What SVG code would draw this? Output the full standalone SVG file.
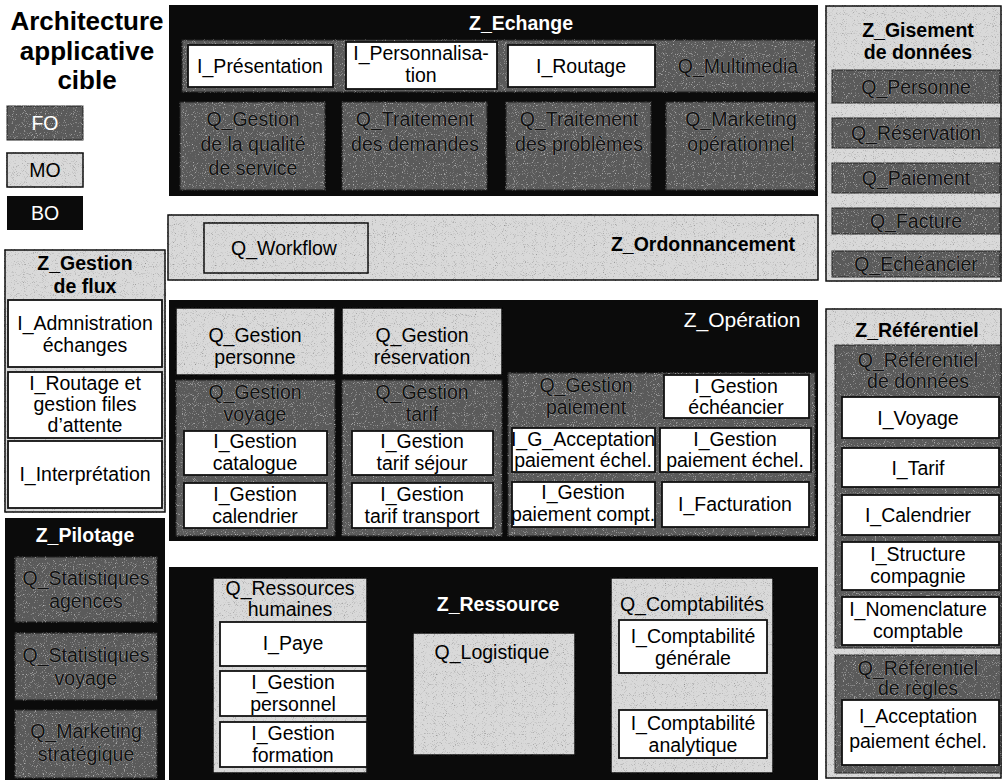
<svg xmlns="http://www.w3.org/2000/svg" width="1003" height="780" viewBox="0 0 1003 780">
  <defs>
    <!-- speckled print texture for the shaded zones -->
    <filter id="grainL" x="-5%" y="-5%" width="110%" height="110%">
      <feTurbulence type="fractalNoise" baseFrequency="1.1" numOctaves="1" seed="7" result="n"/>
      <feColorMatrix in="n" type="matrix" values="0 0 0 0 0  0 0 0 0 0  0 0 0 0 0  2.2 0 0 0 -1.25" result="sp"/>
      <feComposite in="sp" in2="SourceGraphic" operator="in" result="sp2"/>
      <feMerge><feMergeNode in="SourceGraphic"/><feMergeNode in="sp2"/></feMerge>
    </filter>
    <filter id="grainD" x="-5%" y="-5%" width="110%" height="110%">
      <feTurbulence type="fractalNoise" baseFrequency="1.1" numOctaves="1" seed="3" result="n"/>
      <feColorMatrix in="n" type="matrix" values="0 0 0 0 0.85  0 0 0 0 0.85  0 0 0 0 0.85  2.2 0 0 0 -1.3" result="sp"/>
      <feComposite in="sp" in2="SourceGraphic" operator="in" result="sp2"/>
      <feMerge><feMergeNode in="SourceGraphic"/><feMergeNode in="sp2"/></feMerge>
    </filter>
    <style>
      text { font-family: "Liberation Sans", Arial, sans-serif; text-anchor: middle; }
      .bo { fill: #0b0b0b; }
      .mo { fill: #d9d9d9; stroke: #111; stroke-width: 1.5; filter: url(#grainL); }
      .fo { fill: #5a5a5a; stroke: #222; stroke-width: 1; filter: url(#grainD); }
      .box { fill: #ffffff; stroke: #111; stroke-width: 1.8; }
      .t { font-size: 19.5px; fill: #000; }
      .tw { font-size: 19.5px; fill: #fff; }
      .tf { font-size: 19.5px; fill: #111; stroke: #a4a4a4; stroke-width: 0.6; paint-order: stroke; }
      .h { font-size: 19.5px; font-weight: bold; fill: #000; }
      .hw { font-size: 19.5px; font-weight: bold; fill: #fff; }
      .zw { font-size: 21px; fill: #fff; }
      .title { font-size: 26px; font-weight: bold; fill: #000; }
    </style>
  </defs>
  <rect width="1003" height="780" fill="#ffffff"/>

  <!-- Title and legend -->
  <g id="title">
    <text class="title" x="87" y="30">Architecture</text>
    <text class="title" x="87" y="60">applicative</text>
    <text class="title" x="87" y="89">cible</text>
  </g>
  <g id="legend">
    <rect x="7" y="106" width="76" height="34" class="fo"/>
    <text class="tw" x="45" y="130">FO</text>
    <rect x="7" y="153" width="76" height="34" class="mo"/>
    <text class="t" x="45" y="177">MO</text>
    <rect x="7" y="196" width="76" height="34" class="bo"/>
    <text class="tw" x="45" y="220">BO</text>
  </g>

  <!-- Z_Echange -->
  <g id="z-echange">
    <rect x="169" y="5" width="649" height="191" class="bo"/>
    <text class="hw" x="521" y="30">Z_Echange</text>
    <rect x="182" y="40" width="633" height="52" class="fo"/>
    <rect x="188" y="45" width="145" height="42" class="box"/>
    <text class="t" x="260" y="73">I_Présentation</text>
    <rect x="346" y="42" width="151" height="47" class="box"/>
    <text class="t" x="421" y="60">I_Personnalisa-</text>
    <text class="t" x="421" y="82">tion</text>
    <rect x="508" y="45" width="147" height="42" class="box"/>
    <text class="t" x="581" y="73">I_Routage</text>
    <text class="tf" x="738" y="73">Q_Multimedia</text>
    <rect x="180" y="102" width="145" height="88" class="fo"/>
    <text class="tf" x="253" y="126">Q_Gestion</text>
    <text class="tf" x="253" y="151">de la qualité</text>
    <text class="tf" x="253" y="175">de service</text>
    <rect x="342" y="102" width="145" height="88" class="fo"/>
    <text class="tf" x="415" y="126">Q_Traitement</text>
    <text class="tf" x="415" y="151">des demandes</text>
    <rect x="506" y="102" width="145" height="88" class="fo"/>
    <text class="tf" x="579" y="126">Q_Traitement</text>
    <text class="tf" x="579" y="151">des problèmes</text>
    <rect x="666" y="102" width="149" height="88" class="fo"/>
    <text class="tf" x="741" y="126">Q_Marketing</text>
    <text class="tf" x="741" y="151">opérationnel</text>
  </g>

  <!-- Z_Gisement de données -->
  <g id="z-gisement">
    <rect x="826" y="6" width="175" height="275" class="mo"/>
    <text class="h" x="918" y="37">Z_Gisement</text>
    <text class="h" x="918" y="59">de données</text>
    <rect x="832" y="70" width="168" height="33" class="fo"/>
    <text class="tf" x="916" y="94">Q_Personne</text>
    <rect x="832" y="118" width="168" height="30" class="fo"/>
    <text class="tf" x="916" y="140">Q_Réservation</text>
    <rect x="832" y="163" width="168" height="30" class="fo"/>
    <text class="tf" x="916" y="185">Q_Paiement</text>
    <rect x="832" y="208" width="168" height="26" class="fo"/>
    <text class="tf" x="916" y="228">Q_Facture</text>
    <rect x="832" y="251" width="168" height="26" class="fo"/>
    <text class="tf" x="916" y="271">Q_Echéancier</text>
  </g>

  <!-- Z_Ordonnancement -->
  <g id="z-ordonnancement">
    <rect x="168" y="215" width="650" height="65" class="mo"/>
    <rect x="204" y="223" width="164" height="50" class="mo"/>
    <text class="t" x="284" y="255">Q_Workflow</text>
    <text class="h" x="703" y="251">Z_Ordonnancement</text>
  </g>

  <!-- Z_Gestion de flux -->
  <g id="z-gestion-flux">
    <rect x="5" y="250" width="160" height="262" class="mo"/>
    <text class="h" x="85" y="270">Z_Gestion</text>
    <text class="h" x="85" y="293">de flux</text>
    <rect x="8" y="300" width="154" height="67" class="box"/>
    <text class="t" x="85" y="330">I_Admnistration</text>
    <text class="t" x="85" y="352">échanges</text>
    <rect x="8" y="372" width="154" height="66" class="box"/>
    <text class="t" x="85" y="390">I_Routage et</text>
    <text class="t" x="85" y="411">gestion files</text>
    <text class="t" x="85" y="432">d’attente</text>
    <rect x="8" y="441" width="154" height="67" class="box"/>
    <text class="t" x="85" y="481">I_Interprétation</text>
  </g>

  <!-- Z_Pilotage -->
  <g id="z-pilotage">
    <rect x="5" y="518" width="160" height="262" class="bo"/>
    <text class="hw" x="85" y="542">Z_Pilotage</text>
    <rect x="15" y="557" width="142" height="65" class="fo"/>
    <text class="tf" x="86" y="585">Q_Statistiques</text>
    <text class="tf" x="86" y="608">agences</text>
    <rect x="15" y="633" width="142" height="67" class="fo"/>
    <text class="tf" x="86" y="662">Q_Statistiques</text>
    <text class="tf" x="86" y="685">voyage</text>
    <rect x="15" y="710" width="142" height="68" class="fo"/>
    <text class="tf" x="86" y="738">Q_Marketing</text>
    <text class="tf" x="86" y="761">stratégique</text>
  </g>

  <!-- Z_Opération -->
  <g id="z-operation">
    <rect x="169" y="300" width="649" height="241" class="bo"/>
    <text class="zw" x="742" y="327">Z_Opération</text>
    <rect x="176" y="308" width="159" height="67" class="mo"/>
    <text class="t" x="255" y="342">Q_Gestion</text>
    <text class="t" x="255" y="364">personne</text>
    <rect x="342" y="308" width="160" height="67" class="mo"/>
    <text class="t" x="422" y="342">Q_Gestion</text>
    <text class="t" x="422" y="364">réservation</text>

    <rect x="176" y="380" width="159" height="156" class="fo"/>
    <text class="tf" x="255" y="399">Q_Gestion</text>
    <text class="tf" x="255" y="421">voyage</text>
    <rect x="184" y="431" width="143" height="44" class="box"/>
    <text class="t" x="255" y="448">I_Gestion</text>
    <text class="t" x="255" y="470">catalogue</text>
    <rect x="184" y="483" width="143" height="45" class="box"/>
    <text class="t" x="255" y="501">I_Gestion</text>
    <text class="t" x="255" y="523">calendrier</text>

    <rect x="342" y="380" width="160" height="156" class="fo"/>
    <text class="tf" x="422" y="399">Q_Gestion</text>
    <text class="tf" x="422" y="421">tarif</text>
    <rect x="352" y="431" width="141" height="44" class="box"/>
    <text class="t" x="422" y="448">I_Gestion</text>
    <text class="t" x="422" y="470">tarif séjour</text>
    <rect x="352" y="483" width="141" height="45" class="box"/>
    <text class="t" x="422" y="501">I_Gestion</text>
    <text class="t" x="422" y="523">tarif transport</text>

    <rect x="508" y="373" width="307" height="163" class="fo"/>
    <text class="tf" x="586" y="392">Q_Gestion</text>
    <text class="tf" x="586" y="414">paiement</text>
    <rect x="664" y="375" width="145" height="43" class="box"/>
    <text class="t" x="736" y="393">I_Gestion</text>
    <text class="t" x="736" y="414">échéancier</text>
    <rect x="512" y="428" width="143" height="44" class="box"/>
    <text class="t" x="583" y="446">I_G_Acceptation</text>
    <text class="t" x="583" y="467">paiement échel.</text>
    <rect x="660" y="428" width="151" height="44" class="box"/>
    <text class="t" x="735" y="446">I_Gestion</text>
    <text class="t" x="735" y="467">paiement échel.</text>
    <rect x="512" y="482" width="143" height="45" class="box"/>
    <text class="t" x="583" y="499">I_Gestion</text>
    <text class="t" x="583" y="521">paiement compt.</text>
    <rect x="662" y="482" width="147" height="45" class="box"/>
    <text class="t" x="735" y="511">I_Facturation</text>
  </g>

  <!-- Z_Référentiel -->
  <g id="z-referentiel">
    <rect x="826" y="309" width="175" height="469" class="mo"/>
    <text class="h" x="917" y="337">Z_Référentiel</text>
    <rect x="835" y="345" width="166" height="303" class="fo"/>
    <text class="tf" x="918" y="367">Q_Référentiel</text>
    <text class="tf" x="918" y="388">de données</text>
    <rect x="842" y="397" width="157" height="41" class="box"/>
    <text class="t" x="918" y="425">I_Voyage</text>
    <rect x="842" y="448" width="157" height="39" class="box"/>
    <text class="t" x="918" y="475">I_Tarif</text>
    <rect x="842" y="495" width="157" height="40" class="box"/>
    <text class="t" x="918" y="522">I_Calendrier</text>
    <rect x="842" y="542" width="157" height="48" class="box"/>
    <text class="t" x="918" y="561">I_Structure</text>
    <text class="t" x="918" y="583">compagnie</text>
    <rect x="842" y="597" width="157" height="48" class="box"/>
    <text class="t" x="918" y="616">I_Nomenclature</text>
    <text class="t" x="918" y="638">comptable</text>
    <rect x="835" y="655" width="166" height="118" class="fo"/>
    <text class="tf" x="918" y="675">Q_Référentiel</text>
    <text class="tf" x="918" y="695">de règles</text>
    <rect x="842" y="700" width="157" height="65" class="box"/>
    <text class="t" x="918" y="723">I_Acceptation</text>
    <text class="t" x="918" y="748">paiement échel.</text>
  </g>

  <!-- Z_Ressource -->
  <g id="z-ressource">
    <rect x="169" y="567" width="649" height="213" class="bo"/>
    <text class="hw" x="498" y="611">Z_Ressource</text>
    <rect x="213" y="578" width="154" height="195" class="mo"/>
    <text class="t" x="290" y="595">Q_Ressources</text>
    <text class="t" x="290" y="616">humaines</text>
    <rect x="220" y="622" width="147" height="44" class="box"/>
    <text class="t" x="293" y="650">I_Paye</text>
    <rect x="220" y="671" width="147" height="45" class="box"/>
    <text class="t" x="293" y="689">I_Gestion</text>
    <text class="t" x="293" y="711">personnel</text>
    <rect x="220" y="722" width="147" height="45" class="box"/>
    <text class="t" x="293" y="740">I_Gestion</text>
    <text class="t" x="293" y="762">formation</text>
    <rect x="413" y="633" width="162" height="122" class="mo"/>
    <text class="t" x="492" y="659">Q_Logistique</text>
    <rect x="611" y="578" width="162" height="195" class="mo"/>
    <text class="t" x="692" y="611">Q_Comptabilités</text>
    <rect x="619" y="620" width="148" height="53" class="box"/>
    <text class="t" x="693" y="643">I_Comptabilité</text>
    <text class="t" x="693" y="665">générale</text>
    <rect x="619" y="710" width="148" height="48" class="box"/>
    <text class="t" x="693" y="730">I_Comptabilité</text>
    <text class="t" x="693" y="752">analytique</text>
  </g>
</svg>
